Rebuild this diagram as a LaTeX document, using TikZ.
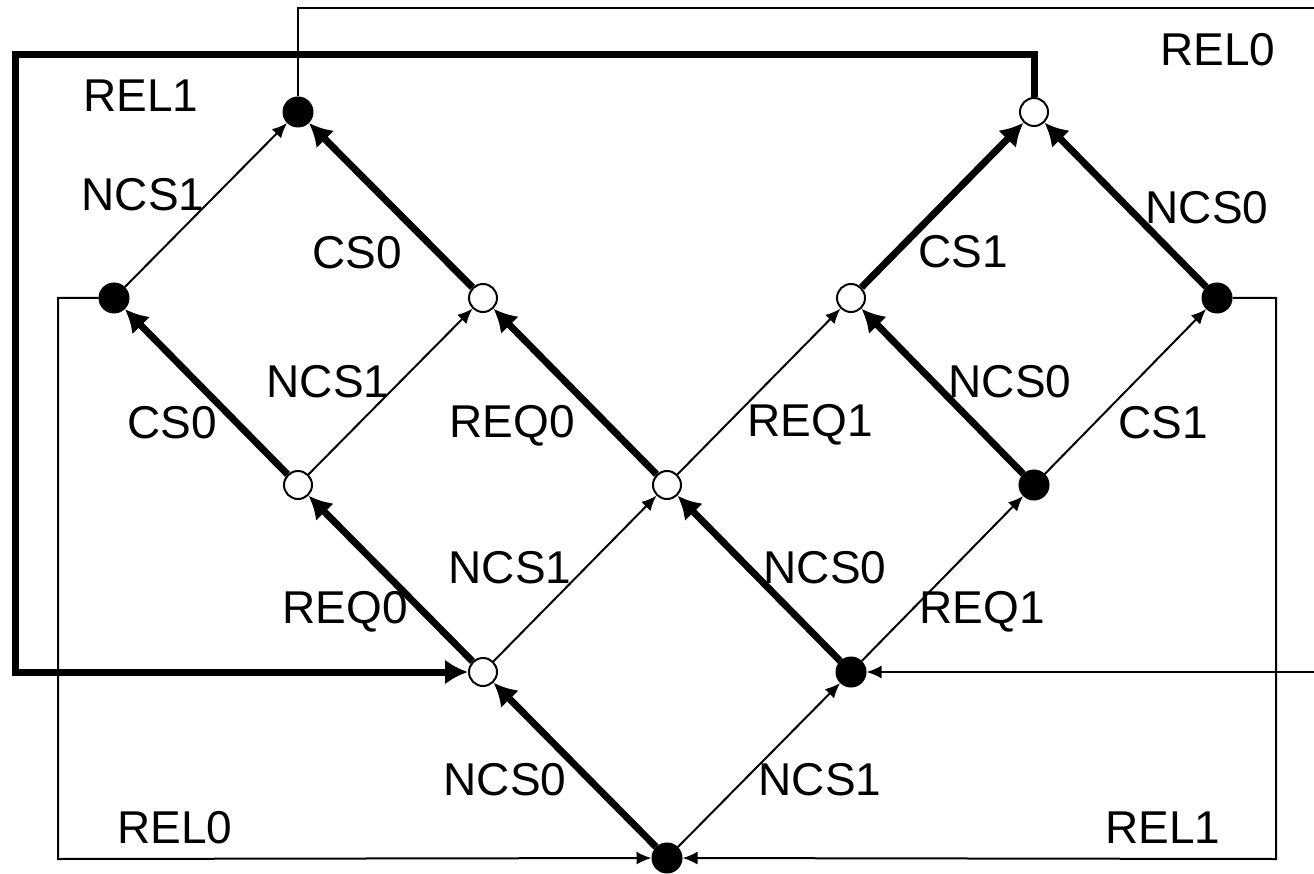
\documentclass[tikz,border=0pt]{standalone}
\usepackage{fontspec}
\setmainfont{Liberation Sans}
\usetikzlibrary{arrows.meta}
\begin{document}
\begin{tikzpicture}[x=1pt,y=-1pt,
  state/.style={circle,draw=black,inner sep=0pt},
  held/.style={state,fill=black,line width=1pt,minimum size=30pt},
  free/.style={state,fill=white,line width=2pt,minimum size=28pt},
  thin edge/.style={line width=2pt,-{Latex[length=15pt,width=13pt]}},
  thick edge/.style={line width=7pt,-{Latex[length=23pt,width=25pt]}},
  thin wire/.style={line width=2pt},
  thick wire/.style={line width=7pt},
  lbl/.style={font=\fontsize{46}{46}\selectfont,inner sep=0pt,anchor=center}]
\useasboundingbox (0,0) rectangle (1314,874);
\fill[white] (0,0) rectangle (1314,874);

% states of the two-process mutual exclusion lattice
\node[held] (B)  at (667,858) {};
\node[free] (L1) at (483,672) {};
\node[held] (R1) at (851,672) {};
\node[free] (L2) at (298,485) {};
\node[free] (M)  at (667,485) {};
\node[held] (R2) at (1034,485) {};
\node[held] (A1) at (114,298) {};
\node[free] (A2) at (483,298) {};
\node[free] (A3) at (851,298) {};
\node[held] (A4) at (1217,298) {};
\node[held] (T1) at (298,112) {};
\node[free] (T2) at (1034,112) {};

% bend points of the release wires
\coordinate (k1) at (1034,55);
\coordinate (k2) at (15,55);
\coordinate (k3) at (15,672);
\coordinate (t1) at (298,8);
\coordinate (t2) at (1340,8);
\coordinate (t3) at (1340,672);
\coordinate (u1) at (58,298);
\coordinate (u2) at (58,859);
\coordinate (v1) at (1276,298);
\coordinate (v2) at (1276,859);

% transitions
\draw[thick edge] (B) -- (L1);
\draw[thin edge]  (B) -- (R1);
\draw[thick edge] (L1) -- (L2);
\draw[thin edge]  (L1) -- (M);
\draw[thick edge] (R1) -- (M);
\draw[thin edge]  (R1) -- (R2);
\draw[thick edge] (L2) -- (A1);
\draw[thin edge]  (L2) -- (A2);
\draw[thick edge] (M) -- (A2);
\draw[thin edge]  (M) -- (A3);
\draw[thick edge] (R2) -- (A3);
\draw[thin edge]  (R2) -- (A4);
\draw[thin edge]  (A1) -- (T1);
\draw[thick edge] (A2) -- (T1);
\draw[thick edge] (A3) -- (T2);
\draw[thick edge] (A4) -- (T2);

% release wires
\draw[thick wire,-{Latex[length=23pt,width=25pt]}] (T2) -- (k1) -- (k2) -- (k3) -- (L1);
\begin{scope}
  \clip (0,0) rectangle (1314,874);
  \draw[thin wire,-{Latex[length=15pt,width=13pt]}] (T1) -- (t1) -- (t2) -- (t3) -- (R1);
\end{scope}
\draw[thin wire,-{Latex[length=15pt,width=13pt]}] (A1) -- (u1) -- (u2) -- (B);
\draw[thin wire,-{Latex[length=15pt,width=13pt]}] (A4) -- (v1) -- (v2) -- (B);

% labels
\node[lbl] (n1)  at (141,96)   {REL1};
\node[lbl] (n2)  at (1218,50)  {REL0};
\node[lbl] (n3)  at (143,195)  {NCS1};
\node[lbl] (n4)  at (357,253)  {CS0};
\node[lbl] (n5)  at (963,252)  {CS1};
\node[lbl] (n6)  at (1207,208) {NCS0};
\node[lbl] (n7)  at (328,382)  {NCS1};
\node[lbl] (n8)  at (172,423)  {CS0};
\node[lbl] (n9)  at (512,426)  {REQ0};
\node[lbl] (n10) at (810,425)  {REQ1};
\node[lbl] (n11) at (1010,382) {NCS0};
\node[lbl] (n12) at (1163,423) {CS1};
\node[lbl] (n13) at (510,568)  {NCS1};
\node[lbl] (n14) at (825,568)  {NCS0};
\node[lbl] (n15) at (345,612)  {REQ0};
\node[lbl] (n16) at (982,612)  {REQ1};
\node[lbl] (n17) at (505,780)  {NCS0};
\node[lbl] (n18) at (820,780)  {NCS1};
\node[lbl] (n19) at (175,828)  {REL0};
\node[lbl] (n20) at (1163,828) {REL1};
\end{tikzpicture}
\end{document}
